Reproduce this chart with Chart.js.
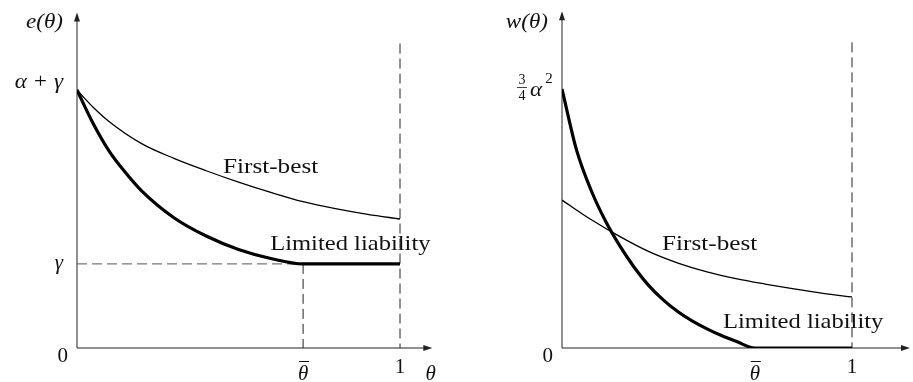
<!DOCTYPE html>
<html>
<head>
<meta charset="utf-8">
<script src="https://cdn.jsdelivr.net/npm/chart.js@4"></script>
<style>
  body { margin: 0; background: #fff; }
  .panel { position: absolute; top: 0; height: 382px; }
</style>
</head>
<body>
<div class="panel" style="left:0;width:456px"><canvas id="effortChart" width="456" height="382"></canvas></div>
<div class="panel" style="left:456px;width:457px"><canvas id="wageChart" width="457" height="382"></canvas></div>
<script>
// effort e(theta), left panel
const thetaEffortFB = [0, 0.05, 0.1, 0.2, 0.3, 0.4, 0.5, 0.6, 0.7, 0.8, 0.9, 1];
const effortFirstBest = [1, 0.933, 0.877, 0.792, 0.735, 0.687, 0.643, 0.603, 0.567, 0.54, 0.518, 0.5];
const thetaEffortLL = [0, 0.05, 0.1, 0.15, 0.2, 0.3, 0.4, 0.5, 0.6, 0.7, 1];
const effortLimited = [1, 0.87, 0.762, 0.68, 0.609, 0.505, 0.434, 0.382, 0.347, 0.326, 0.326];
const gammaLevel = 0.326;
const thetaBarEffort = 0.7;

// wage w(theta), right panel
const thetaWageFB = [0, 0.1, 0.2, 0.3, 0.4, 0.5, 0.6, 0.7, 0.8, 0.9, 1];
const wageFirstBest = [0.571, 0.496, 0.43, 0.372, 0.328, 0.294, 0.268, 0.247, 0.228, 0.211, 0.197];
const thetaWageLL = [0, 0.05, 0.1, 0.15, 0.2, 0.25, 0.3, 0.35, 0.4, 0.45, 0.5, 0.55, 0.6, 0.665, 1];
const wageLimited = [1, 0.765, 0.61, 0.49, 0.393, 0.31, 0.24, 0.185, 0.14, 0.104, 0.074, 0.048, 0.026, 0, 0];
const thetaBarWage = 0.665;

const dashTop = 1.18;
const effortTicks = ["α + γ", "γ", "0"];
const wageTicks = ["α", "0"];
const xTicks = ["θ", "1"];

const serif = '"Liberation Serif", "Times New Roman", serif';

function pts(xs, ys) {
  return xs.map((x, i) => ({ x: x, y: ys[i] }));
}

function curve(data, width) {
  return {
    data: data, borderColor: "#000", borderWidth: width, pointRadius: 0,
    fill: false, cubicInterpolationMode: "monotone"
  };
}

function dashed(data, color) {
  return {
    data: data, borderColor: color || "#222", borderWidth: 1, pointRadius: 0,
    fill: false, tension: 0, borderDash: [10, 5]
  };
}

function text(ctx, s, x, y, size, italic, align, sx) {
  ctx.save();
  ctx.font = (italic ? "italic " : "") + size + "px " + serif;
  ctx.fillStyle = "#111";
  ctx.textBaseline = "middle";
  ctx.textAlign = align || "left";
  ctx.translate(x, y);
  ctx.scale(sx || 1, 1);
  ctx.fillText(s, 0, 0);
  ctx.restore();
}

function thetaBar(ctx, x, y) {
  text(ctx, xTicks[0], x, y, 21, true, "center");
  ctx.save();
  ctx.strokeStyle = "#111";
  ctx.lineWidth = 1;
  ctx.beginPath();
  ctx.moveTo(x - 4, y - 12.5);
  ctx.lineTo(x + 6, y - 12.5);
  ctx.stroke();
  ctx.restore();
}

// axis lines with arrow heads
const axesPlugin = {
  id: "axes",
  beforeDatasetsDraw(chart) {
    const ctx = chart.ctx, a = chart.chartArea;
    const x0 = chart.scales.x.getPixelForValue(0);
    const y0 = chart.scales.y.getPixelForValue(0);
    ctx.save();
    ctx.strokeStyle = "#222";
    ctx.fillStyle = "#222";
    ctx.lineWidth = 1;
    ctx.beginPath();
    ctx.moveTo(x0, y0);
    ctx.lineTo(x0, a.top + 4);
    ctx.moveTo(x0, y0);
    ctx.lineTo(a.right - 4, y0);
    ctx.stroke();
    ctx.beginPath();
    ctx.moveTo(x0, a.top);
    ctx.lineTo(x0 - 3, a.top + 9);
    ctx.lineTo(x0 + 3, a.top + 9);
    ctx.closePath();
    ctx.fill();
    ctx.beginPath();
    ctx.moveTo(a.right, y0);
    ctx.lineTo(a.right - 9, y0 - 3);
    ctx.lineTo(a.right - 9, y0 + 3);
    ctx.closePath();
    ctx.fill();
    ctx.restore();
  }
};

function baseOptions(xMax, pad) {
  return {
    responsive: false,
    animation: false,
    devicePixelRatio: 1,
    layout: { padding: pad },
    plugins: { legend: { display: false }, tooltip: { enabled: false } },
    scales: {
      x: { type: "linear", min: 0, max: xMax, display: false },
      y: { type: "linear", min: 0, max: 1.3, display: false }
    }
  };
}

// left: e(theta)
new Chart(document.getElementById("effortChart"), {
  type: "line",
  data: {
    datasets: [
      curve(pts(thetaEffortLL, effortLimited), 3.2),
      curve(pts(thetaEffortFB, effortFirstBest), 1.3),
      dashed([{ x: 0, y: gammaLevel }, { x: thetaBarEffort, y: gammaLevel }], "#555"),
      dashed([{ x: thetaBarEffort, y: gammaLevel }, { x: thetaBarEffort, y: 0 }]),
      dashed([{ x: 1, y: dashTop }, { x: 1, y: 0 }])
    ]
  },
  options: baseOptions(1.1, { left: 77, right: 23.7, top: 12.6, bottom: 34 }),
  plugins: [axesPlugin, {
    id: "effortLabels",
    afterDraw(chart) {
      const ctx = chart.ctx, xs = chart.scales.x, ys = chart.scales.y;
      const x0 = xs.getPixelForValue(0);
      text(ctx, "e(θ)", x0 - 14, 22, 21, true, "right", 1.1);
      text(ctx, effortTicks[0], x0 - 14, ys.getPixelForValue(1) - 8, 21, true, "right", 1.1);
      text(ctx, effortTicks[1], x0 - 14, ys.getPixelForValue(gammaLevel), 21, true, "right");
      text(ctx, effortTicks[2], x0 - 9, ys.getPixelForValue(0) + 8, 21, false, "right");
      thetaBar(ctx, xs.getPixelForValue(thetaBarEffort), 374);
      text(ctx, xTicks[1], xs.getPixelForValue(1), 367, 21, false, "center");
      text(ctx, xTicks[0], xs.getPixelForValue(1.095), 374, 21, true, "center");
      text(ctx, "First-best", xs.getPixelForValue(0.452), ys.getPixelForValue(0.70), 21, false, "left", 1.2);
      text(ctx, "Limited liability", xs.getPixelForValue(0.598), ys.getPixelForValue(0.40), 21, false, "left", 1.17);
    }
  }]
});

// right: w(theta)
new Chart(document.getElementById("wageChart"), {
  type: "line",
  data: {
    datasets: [
      curve(pts(thetaWageLL, wageLimited), 3.2),
      curve(pts(thetaWageFB, wageFirstBest), 1.3),
      dashed([{ x: 1, y: dashTop }, { x: 1, y: 0 }])
    ]
  },
  options: baseOptions(1.2, { left: 106, right: 3, top: 11.3, bottom: 34 }),
  plugins: [axesPlugin, {
    id: "wageLabels",
    afterDraw(chart) {
      const ctx = chart.ctx, xs = chart.scales.x, ys = chart.scales.y;
      const x0 = xs.getPixelForValue(0);
      const yTop = ys.getPixelForValue(1);
      text(ctx, "w(θ)", x0 - 14, 22, 21, true, "right", 1.1);
      // 3/4 alpha^2
      text(ctx, "3", x0 - 40, yTop - 9, 14, false, "center");
      text(ctx, "4", x0 - 40, yTop + 7, 14, false, "center");
      ctx.save();
      ctx.strokeStyle = "#111";
      ctx.lineWidth = 0.8;
      ctx.beginPath();
      ctx.moveTo(x0 - 45, yTop - 1.5);
      ctx.lineTo(x0 - 35, yTop - 1.5);
      ctx.stroke();
      ctx.restore();
      text(ctx, wageTicks[0], x0 - 26, yTop + 1, 21, true, "center", 1.1);
      text(ctx, "2", x0 - 13, yTop - 10, 15, false, "center");
      text(ctx, wageTicks[1], x0 - 9, ys.getPixelForValue(0) + 8, 21, false, "right");
      thetaBar(ctx, xs.getPixelForValue(thetaBarWage), 374);
      text(ctx, xTicks[1], xs.getPixelForValue(1), 367, 21, false, "center");
      text(ctx, xTicks[0], xs.getPixelForValue(1.2) + 8, 374, 21, true, "center");
      text(ctx, "First-best", xs.getPixelForValue(0.345), ys.getPixelForValue(0.398), 21, false, "left", 1.2);
      text(ctx, "Limited liability", xs.getPixelForValue(0.555), ys.getPixelForValue(0.097), 21, false, "left", 1.17);
    }
  }]
});
</script>
</body>
</html>
